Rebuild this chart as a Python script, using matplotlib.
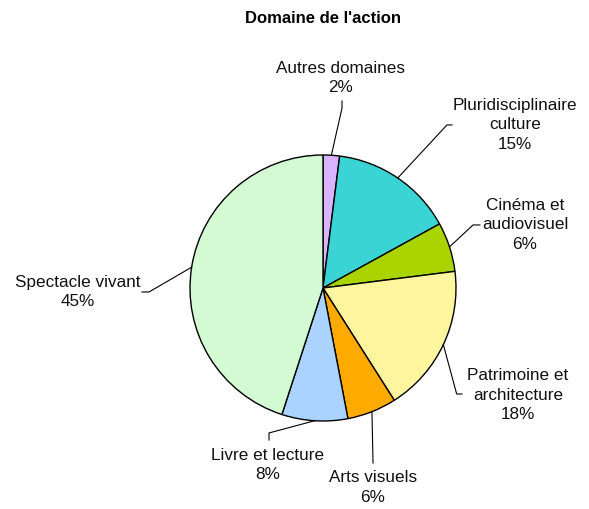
import numpy as np
import matplotlib.pyplot as plt

plt.rcParams["font.family"] = ["Liberation Sans", "DejaVu Sans"]

# Data
categories = ["Autres domaines", "Pluridisciplinaire\nculture", "Cinéma et\naudiovisuel",
              "Patrimoine et\narchitecture", "Arts visuels", "Livre et lecture",
              "Spectacle vivant"]
shares = [2, 15, 6, 18, 6, 8, 45]
colors = ["#d9b3ff", "#3bd4d4", "#aad400", "#fff59e", "#ffaa00", "#aad4ff", "#d4fad4"]

# Layout of the labels (pie units, centre at 0,0, radius 1): elbow, line end, text
elbows = [(0.143, 1.353), (0.932, 1.226), (1.128, 0.474), (1.005, -0.797),
          (0.376, -1.316), (-0.406, -1.090), (-1.308, -0.030)]
ends = [(0.143, 1.406), (0.970, 1.226), (1.180, 0.474), (1.045, -0.797),
        (0.376, -1.316), (-0.406, -1.143), (-1.361, -0.030)]
text_pos = [(0.135, 1.58), (1.444, 1.226), (1.519, 0.474), (1.466, -0.805),
            (0.376, -1.50), (-0.414, -1.331), (-1.842, -0.030)]

fig = plt.figure(figsize=(5.89, 5.09), dpi=100)
ax = fig.add_axes([0, 0, 1, 1])
ax.pie(shares, colors=colors, startangle=90, counterclock=False, radius=1,
       wedgeprops=dict(edgecolor="black", linewidth=1.0))
ax.set_xlim(-323 / 133, (589 - 323) / 133)
ax.set_ylim((288 - 509) / 133, 288 / 133)
ax.set_aspect("auto")
ax.axis("off")

total = sum(shares)
cum = np.cumsum([0] + shares)
for i, cat in enumerate(categories):
    mid = (cum[i] + cum[i + 1]) / 2 / total * 360
    th = np.deg2rad(mid)
    x0, y0 = np.sin(th), np.cos(th)
    ex, ey = elbows[i]
    fx, fy = ends[i]
    ax.plot([x0, ex, fx], [y0, ey, fy], color="black", linewidth=0.8)
    tx, ty = text_pos[i]
    ax.text(tx, ty, f"{cat}\n{shares[i]}%", ha="center", va="center",
            fontsize=12.3, linespacing=1.35, color="#111111")

ax.text(0, 2.03, "Domaine de l'action", ha="center", va="center",
        fontsize=12, fontweight="bold")

fig.savefig("out.png", dpi=100)
